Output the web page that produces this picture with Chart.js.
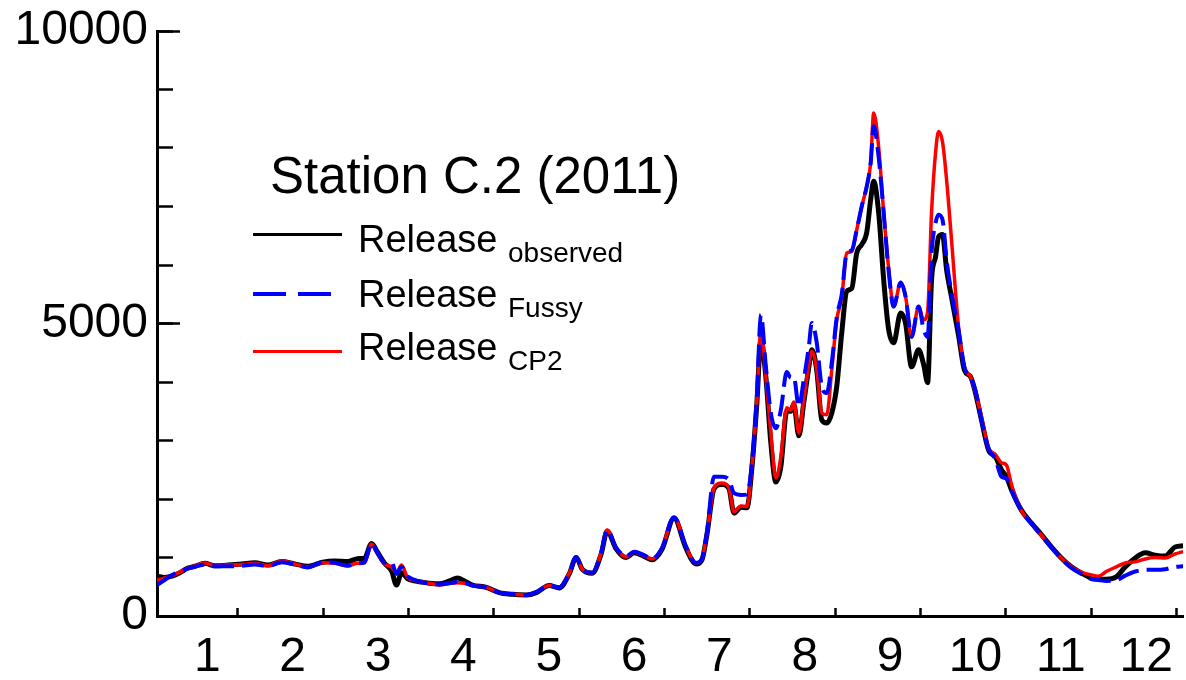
<!DOCTYPE html>
<html>
<head>
<meta charset="utf-8">
<script src="https://cdn.jsdelivr.net/npm/chart.js@4"></script>
<style>
  body { margin: 0; background: #fff; }
  #wrap { position: relative; width: 1186px; height: 680px; font-family: "Liberation Sans", Arial, sans-serif; color: #000; }
  #chartCanvas { position: absolute; left: 0; top: 0; }
  .lg { position: absolute; white-space: nowrap; line-height: 1; }
  .title { left: 270px; top: 150px; font-size: 51px; }
  .row { left: 358px; font-size: 38px; }
  .row sub { font-size: 28px; vertical-align: -10px; }
  .sample { position: absolute; left: 253px; width: 89px; }
</style>
</head>
<body>
<div id="wrap">
  <canvas id="chartCanvas" width="1186" height="680"></canvas>
  <div class="lg title">Station C.2 (2011)</div>
  <div class="sample" style="top:233px;height:3px;background:#000"></div>
  <div class="lg row" style="top:220px">Release <sub>observed</sub></div>
  <div class="sample" style="top:292px;height:4px;width:78px;background:repeating-linear-gradient(to right,#0000ff 0 33px,transparent 33px 45px)"></div>
  <div class="lg row" style="top:275px">Release <sub>Fussy</sub></div>
  <div class="sample" style="top:350px;height:3px;background:#ff0000"></div>
  <div class="lg row" style="top:328px">Release <sub>CP2</sub></div>
</div>
<script>
// x position of each reading, in months (label "1" sits at 1.0)
var monthPos = [
  0.41, 0.503, 0.585, 0.678, 0.772, 0.854, 0.971, 1.088, 1.240, 1.404,
  1.556, 1.708, 1.871, 2.023, 2.175, 2.351, 2.491, 2.643, 2.760, 2.842,
  2.924, 2.994, 3.076, 3.158, 3.216, 3.275, 3.345, 3.427, 3.509, 3.602,
  3.719, 3.836, 3.930, 4.012, 4.105, 4.269, 4.421, 4.573, 4.737, 4.854,
  5.006, 5.123, 5.240, 5.322, 5.392, 5.509, 5.614, 5.684, 5.789, 5.906,
  6.000, 6.117, 6.211, 6.327, 6.468, 6.608, 6.725, 6.795, 6.854, 6.936,
  7.029, 7.111, 7.170, 7.251, 7.322, 7.380, 7.439, 7.485, 7.544, 7.602,
  7.661, 7.719, 7.789, 7.836, 7.871, 7.930, 7.988, 8.047, 8.082, 8.140,
  8.199, 8.257, 8.316, 8.374, 8.433, 8.491, 8.550, 8.608, 8.667, 8.725,
  8.772, 8.807, 8.865, 8.924, 8.982, 9.041, 9.123, 9.181, 9.251, 9.333,
  9.392, 9.439, 9.485, 9.532, 9.567, 9.614, 9.661, 9.719, 9.801, 9.871,
  9.942, 10.000, 10.070, 10.152, 10.234, 10.304, 10.363, 10.421, 10.538, 10.655,
  10.772, 10.889, 11.006, 11.123, 11.240, 11.357, 11.439, 11.532, 11.649, 11.754,
  11.871, 11.988, 12.105, 12.222, 12.339, 12.433
];

var releaseObserved = [
  680, 660, 680, 740, 820, 850, 900, 860, 870, 890,
  910, 870, 930, 890, 850, 920, 940, 930, 980, 990,
  1240, 1090, 900, 770, 530, 740, 640, 600, 580, 560,
  550, 600, 650, 600, 530, 490, 400, 370, 360, 400,
  520, 480, 720, 1000, 800, 730, 1060, 1450, 1150, 1000,
  1080, 1020, 960, 1140, 1670, 1160, 890, 960, 1400, 2170,
  2250, 2180, 1760, 1860, 1850, 2530, 3650, 4720, 4080, 2960,
  2290, 2550, 3500, 3500, 3620, 3080, 3650, 4250, 4550, 4200,
  3350, 3300, 3470, 3920, 4840, 5550, 5600, 6200, 6350, 6550,
  7120, 7430, 6900, 5750, 4900, 4670, 5180, 5000, 4260, 4550,
  4300, 3990, 5750, 6140, 6480, 6520, 5920, 5450, 4800, 4200,
  4090, 3810, 3350, 2840, 2720, 2500, 2380, 2160, 1810, 1590,
  1390, 1180, 990, 840, 735, 650, 630, 630, 670, 840,
  990, 1080, 1040, 1025, 1180, 1200
];

var releaseFussy = [
  530, 620, 700, 760, 810, 840, 880, 850, 850, 860,
  880, 850, 920, 880, 830, 920, 910, 860, 900, 920,
  1250, 1080, 910, 920, 720, 840, 680, 620, 580, 560,
  540, 560, 580, 570, 520, 490, 400, 375, 360, 410,
  520, 490, 730, 1010, 800, 740, 1080, 1470, 1170, 1020,
  1100, 1040, 980, 1160, 1690, 1190, 910, 980, 1430, 2380,
  2380, 2330, 2100, 2070, 2080, 2600, 3750, 5150, 4260, 3470,
  3210, 3520, 4170, 4070, 4090, 3575, 4040, 4600, 5010, 4670,
  3920, 3810, 4330, 5100, 5500, 6200, 6250, 6600, 7000, 7340,
  7750, 8370, 7850, 6900, 5900, 5290, 5700, 5460, 4770, 5290,
  4900, 4770, 6210, 6720, 6860, 6770, 6090, 5520, 4890, 4250,
  4090, 3850, 3350, 2860, 2680, 2380, 2350, 2150, 1800, 1580,
  1380, 1170, 980, 820, 720, 630, 615, 600, 610, 690,
  760, 790, 790, 800, 840, 850
];

var releaseCP2 = [
  610, 650, 690, 750, 820, 855, 905, 860, 870, 880,
  900, 860, 940, 890, 840, 910, 900, 860, 900, 910,
  1230, 1060, 890, 840, 740, 870, 660, 610, 580, 560,
  530, 560, 570, 560, 520, 490, 400, 375, 360, 410,
  520, 490, 730, 1010, 800, 740, 1080, 1470, 1160, 1010,
  1090, 1030, 975, 1160, 1690, 1180, 905, 975, 1420, 2190,
  2275, 2190, 1780, 1880, 1870, 2550, 3700, 4890, 4090, 3130,
  2360, 2720, 3560, 3520, 3660, 3130, 3700, 4300, 4520, 4210,
  3470, 3440, 4210, 5060, 5450, 6200, 6230, 6600, 7000, 7340,
  7750, 8600, 8020, 6900, 5950, 5290, 5700, 5460, 4770, 5290,
  5060, 5200, 6900, 7920, 8280, 8100, 7460, 6430, 4950, 4250,
  4090, 3820, 3400, 2880, 2760, 2620, 2580, 2250, 1800, 1580,
  1380, 1170, 990, 840, 750, 700, 680, 760, 840, 905,
  925, 975, 1000, 990, 1060, 1100
];

// axis labels and tick marks
var monthLabels = ['1', '2', '3', '4', '5', '6', '7', '8', '9', '10', '11', '12'];
var monthTicks = [1.357, 2.357, 3.357, 4.357, 5.357, 6.357, 7.357, 8.357, 9.357, 10.357, 11.357, 12.357];
var yLabelTicks = [0, 5000, 10000];

var xMin = 0.41;
var xMax = 12.433;
var fontFamily = '"Liberation Sans", Arial, sans-serif';

function toPoints(values) {
  return values.map(function(v, i) { return { x: monthPos[i], y: v }; });
}

// keep the tick labels from pushing the plot area around
function noVerticalPadding(scale) {
  scale.paddingTop = 0;
  scale.paddingBottom = 0;
}

var chart = new Chart(document.getElementById('chartCanvas'), {
  type: 'line',
  data: {
    datasets: [
      {
        label: 'Release observed',
        data: toPoints(releaseObserved),
        borderColor: '#000000',
        borderWidth: 5,
        order: 3
      },
      {
        label: 'Release Fussy',
        data: toPoints(releaseFussy),
        borderColor: '#0000ff',
        borderWidth: 4,
        borderDash: [22, 8],
        order: 1
      },
      {
        label: 'Release CP2',
        data: toPoints(releaseCP2),
        borderColor: '#ff0000',
        borderWidth: 3.5,
        order: 2
      }
    ]
  },
  options: {
    responsive: false,
    animation: false,
    devicePixelRatio: 1,
    layout: { padding: { top: 31, right: 1, left: 0, bottom: 0 } },
    elements: {
      point: { radius: 0 },
      line: { cubicInterpolationMode: 'monotone', fill: false }
    },
    plugins: {
      legend: { display: false },
      tooltip: { enabled: false }
    },
    scales: {
      x: {
        type: 'linear',
        position: 'bottom',
        weight: 0,
        min: xMin,
        max: xMax,
        afterBuildTicks: function(scale) {
          scale.ticks = monthTicks.map(function(v) { return { value: v }; });
        },
        ticks: { display: false },
        grid: { drawOnChartArea: false, drawTicks: true, tickLength: -8, tickWidth: 2.5, tickColor: '#000' },
        border: { display: true, color: '#000', width: 3 },
        afterFit: function(scale) { scale.height = 0; }
      },
      xLabels: {
        type: 'linear',
        position: 'bottom',
        weight: 1,
        min: xMin,
        max: xMax,
        afterBuildTicks: function(scale) {
          scale.ticks = monthLabels.map(function(t, i) { return { value: i + 1 }; });
        },
        ticks: {
          color: '#000',
          font: { family: fontFamily, size: 48 },
          padding: 13,
          maxRotation: 0,
          autoSkip: false,
          callback: function(value) { return monthLabels[Math.round(value) - 1]; }
        },
        grid: { display: false, drawTicks: false },
        border: { display: false },
        afterFit: function(scale) { scale.height = 64; }
      },
      y: {
        type: 'linear',
        position: 'left',
        weight: 1,
        min: 0,
        max: 10000,
        afterBuildTicks: function(scale) {
          scale.ticks = yLabelTicks.map(function(v) { return { value: v }; });
        },
        ticks: {
          color: '#000',
          font: { family: fontFamily, size: 48 },
          padding: 32,
          callback: function(value) { return String(value); }
        },
        grid: { drawOnChartArea: false, drawTicks: true, tickLength: -23, tickWidth: 2.5, tickColor: '#000' },
        border: { display: true, color: '#000', width: 3 },
        afterFit: function(scale) { scale.width = 157; noVerticalPadding(scale); }
      },
      yMinor: {
        type: 'linear',
        position: 'left',
        weight: 0,
        min: 0,
        max: 10000,
        ticks: { display: false, stepSize: 1000 },
        grid: { drawOnChartArea: false, drawTicks: true, tickLength: -16, tickWidth: 2.5, tickColor: '#000' },
        border: { display: false },
        afterFit: function(scale) { scale.width = 0; noVerticalPadding(scale); }
      }
    }
  }
});
</script>
</body>
</html>
